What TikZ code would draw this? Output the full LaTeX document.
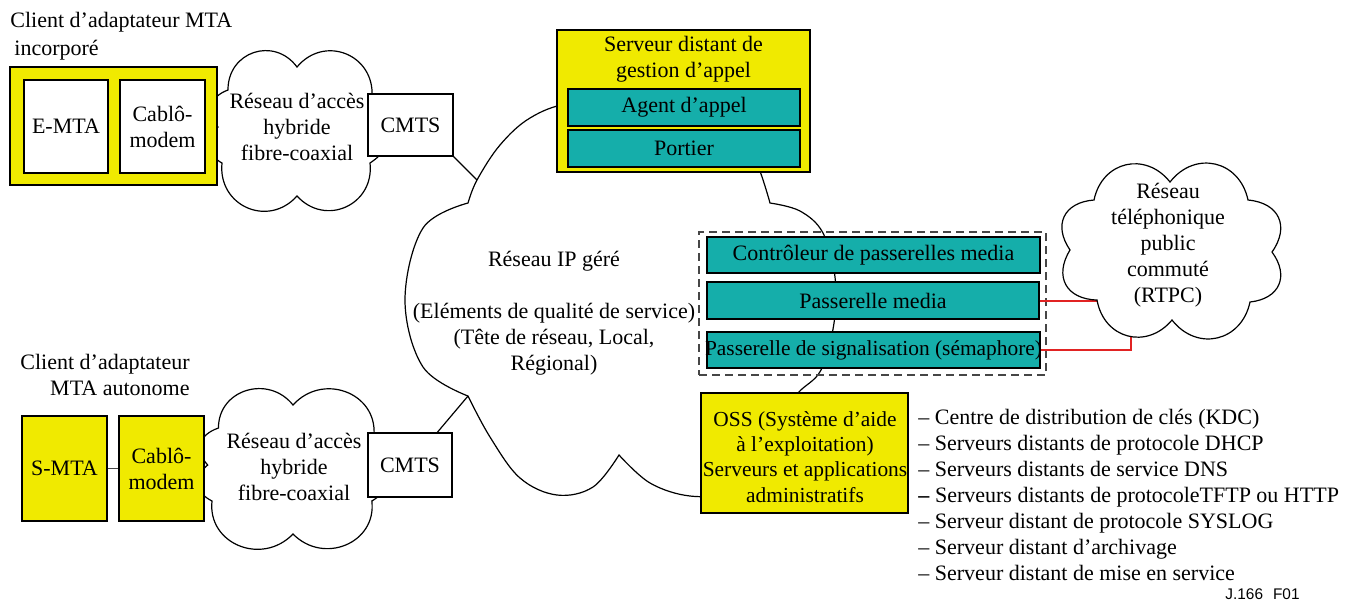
\documentclass[tikz,border=0pt]{standalone}
\usepackage{fontspec}
\setmainfont{Liberation Serif}
\newfontfamily\labelsans{Liberation Sans}
\usetikzlibrary{calc}
\definecolor{ylw}{RGB}{240,234,0}
\definecolor{tealc}{RGB}{21,174,170}
\definecolor{redl}{RGB}{225,35,35}
\definecolor{dgray}{RGB}{70,70,70}
\begin{document}
\begin{tikzpicture}[x=0.5pt,y=-0.5pt,
  every node/.style={font=\fontsize{11}{13}\selectfont},
  ln/.style={draw=black, line width=0.6pt},
  cloudl/.style={draw=black, line width=0.6pt, fill=white},
  big/.style={bend left=72, looseness=1.35},
  small/.style={bend left=55, looseness=1.3},
  box/.style={draw=black, line width=0.6pt, inner sep=0pt, align=center},
  ybox/.style={box, fill=ylw},
  tbox/.style={box, fill=tealc},
  wbox/.style={box, fill=white},
  txt/.style={align=center, inner sep=0pt}]

\useasboundingbox (0,0) rectangle (1358,602);

% ---------- central cloud ----------
\draw[cloudl] plot[smooth, tension=0.6] coordinates {(468,203) (477,180) (500,145) (530,118) (570,103) (640,97) (715,112) (750,148) (770,203)}
 -- plot[smooth, tension=0.6] coordinates {(770,203) (800,211) (823,233) (835,277) (834,323) (821,370) (798,393) (780,420)}
 -- plot[smooth, tension=0.6] coordinates {(780,420) (765,468) (730,492) (690,496) (650,483) (619,455)}
 -- plot[smooth, tension=0.6] coordinates {(619,455) (593,487) (557,495) (520,478) (490,437) (468,396)}
 -- plot[smooth, tension=0.6] coordinates {(468,396) (423,367) (405,300) (423,228) (468,203)} -- cycle;
\node[txt] (ipnet) at (554,313.5) {Réseau IP géré\\[13pt](Eléments de qualité de service)\\(Tête de réseau, Local,\\Régional)};

% ---------- access cloud 1 ----------
\begin{scope}[shift={(297,130)}]
\draw[cloudl] (-69,-40) to[big] (0,-63) to[big] (75,-33) to[small] (73,33) to[big] (0,66) to[big] (-75,33) to[small] (-79,-3) to[small] (-69,-40) -- cycle;
\end{scope}
\node[txt] (hfc1) at (297,127) {Réseau d’accès\\hybride\\fibre-coaxial};

% ---------- access cloud 2 ----------
\begin{scope}[shift={(293,468)}, xscale=1.08]
\draw[cloudl] (-69,-40) to[big] (0,-63) to[big] (75,-33) to[small] (73,33) to[big] (0,66) to[big] (-75,33) to[small] (-79,-3) to[small] (-69,-40) -- cycle;
\end{scope}
\node[txt] (hfc2) at (294,467) {Réseau d’accès\\hybride\\fibre-coaxial};

% ---------- top-left client ----------
\node[anchor=base west, inner sep=0pt] (t1a) at (10,27) {Client d’adaptateur MTA};
\node[anchor=base west, inner sep=0pt] (t1b) at (14,55) {incorporé};
\node[ybox, minimum width=103.5pt, minimum height=59pt] (mta1) at (113.5,126) {};
\node[wbox, minimum width=42pt, minimum height=46.5pt] (emta) at (66,126.5) {E-MTA};
\node[wbox, minimum width=42.5pt, minimum height=46.5pt] (cab1) at (162.5,126.5) {Cablô-\\modem};
\node[wbox, minimum width=42.5pt, minimum height=31pt] (cmts1) at (410.5,125) {CMTS};

% ---------- bottom-left client ----------
\node[anchor=base east, inner sep=0pt] (t2a) at (190,369) {Client d’adaptateur};
\node[anchor=base east, inner sep=0pt] (t2b) at (190,395) {MTA autonome};
\node[ybox, minimum width=42.5pt, minimum height=52.5pt] (smta) at (64.5,468.5) {S-MTA};
\node[ybox, minimum width=42.5pt, minimum height=52.5pt] (cab2) at (161.5,468.5) {Cablô-\\modem};
\draw[draw=dgray, line width=0.8pt] (smta) -- (cab2);
\node[wbox, minimum width=42pt, minimum height=32pt] (cmts2) at (410,465) {CMTS};

% connectors to the IP cloud
\coordinate (j1) at (477,180);
\draw[ln] (cmts1.south east) -- (j1);
\coordinate (j2) at (468,396);
\draw[ln] ($(cmts2.north west)!0.82!(cmts2.north east)$) -- (j2);

% ---------- call management server ----------
\node[ybox, minimum width=126.5pt, minimum height=71pt] (srv) at (683.5,101) {};
\node[txt] (srvt) at (683.5,59) {Serveur distant de\\gestion d’appel};
\node[tbox, minimum width=116pt, minimum height=18.5pt] (agent) at (684,107.5) {Agent d’appel};
\node[tbox, minimum width=116pt, minimum height=18.5pt] (port) at (684,148.5) {Portier};

% ---------- gateways ----------
\node[draw=dgray, dash pattern=on 4pt off 2.5pt, line width=0.7pt, minimum width=173.5pt, minimum height=71.5pt, inner sep=0pt] (mgbox) at (872.5,303.5) {};
\node[tbox, minimum width=166.5pt, minimum height=18pt] (ctrl) at (873.5,255) {Contrôleur de passerelles media};
\node[tbox, minimum width=166pt, minimum height=18.5pt] (pmedia) at (873,300.5) {Passerelle media};
\node[tbox, minimum width=166.5pt, minimum height=18pt] (psig) at (873.5,350) {};
\node[txt, font=\fontsize{10.7}{13}\selectfont] (psigt) at (873.5,350) {Passerelle de signalisation (sémaphore)};

% red links
\coordinate (r1) at (1108,300.5);
\coordinate (r2) at (1131,328);
\draw[draw=redl, line width=1pt] (pmedia.east) -- (r1);
\draw[draw=redl, line width=1pt] (psig.east) -| (r2);

% ---------- PSTN cloud ----------
\begin{scope}[shift={(1170,250)}]
\draw[cloudl] (0,-68) to[bend left=65, looseness=1.3] (78,-50) to[bend left=60, looseness=1.4] (102,2) to[bend left=60, looseness=1.4] (80,52) to[bend left=65, looseness=1.3] (2,70) to[bend left=65, looseness=1.3] (-73,50) to[bend left=60, looseness=1.4] (-100,0) to[bend left=60, looseness=1.4] (-76,-50) to[bend left=65, looseness=1.3] (0,-68) -- cycle;
\end{scope}
\node[txt] (rtpc) at (1168,245) {Réseau\\téléphonique\\public\\commuté\\(RTPC)};

% ---------- OSS ----------
\node[ybox, minimum width=103.5pt, minimum height=60pt] (oss) at (804.5,453) {};
\node[txt, font=\fontsize{10.7}{12.6}\selectfont] (osst) at (805,457) {OSS (Système d’aide\\à l’exploitation)\\Serveurs et applications\\administratifs};
\node[anchor=west, align=left, inner sep=0pt] (list) at (918,495) {– Centre de distribution de clés (KDC)\\– Serveurs distants de protocole DHCP\\– Serveurs distants de service DNS\\\textbf{–} Serveurs distants de protocoleTFTP ou HTTP\\– Serveur distant de protocole SYSLOG\\– Serveur distant d’archivage\\– Serveur distant de mise en service};

\node[anchor=west, inner sep=0pt, font=\labelsans\fontsize{7.7}{9}\selectfont] (fig) at (1225,594) {J.166\hspace{5pt}F01};
\end{tikzpicture}
\end{document}
